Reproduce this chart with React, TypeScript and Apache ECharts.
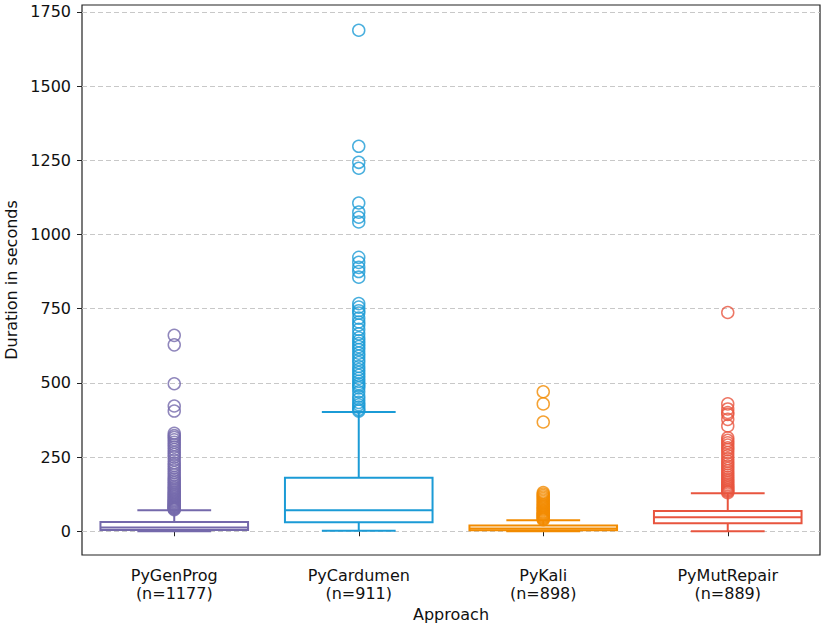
import React, { useEffect, useRef } from "react";
import * as echarts from "echarts";

const approaches = ["PyGenProg", "PyCardumen", "PyKali", "PyMutRepair"];
const counts = [1177, 911, 898, 889];
const colors = ["#7469ab", "#1b9bd6", "#f28b00", "#e8553f"];
const yTicks = [0, 250, 500, 750, 1000, 1250, 1500, 1750];

// [lower whisker, Q1, median, Q3, upper whisker]
const boxGenProg = [0, 4, 13, 31, 71];
const boxCardumen = [2, 30, 71, 180, 402];
const boxKali = [0, 3, 9, 19, 37];
const boxMutRepair = [0, 27, 47, 68, 128];

const outGenProg = [
  73, 75, 77, 79, 81, 83, 85, 88, 90, 93, 96, 99, 102, 105, 108, 112, 116, 120, 124, 128,
  132, 137, 142, 147, 152, 158, 164, 170, 176, 182, 190, 198, 206, 214, 222, 230, 240,
  250, 258, 266, 275, 284, 292, 300, 308, 316, 322, 330, 405, 422, 497, 628, 660,
];
const outCardumen = [
  405, 410, 418, 426, 434, 445, 455, 470, 483, 490, 497, 505, 515, 525, 535, 545, 555,
  568, 578, 590, 600, 612, 622, 632, 642, 652, 665, 680, 695, 705, 718, 735, 743, 755,
  767, 856, 875, 889, 906, 923, 1042, 1058, 1075, 1106, 1223, 1243, 1297, 1688,
];
const outKali = [
  39, 42, 45, 48, 51, 54, 57, 60, 63, 66, 70, 74, 78, 82, 86, 90, 95, 100, 105, 110, 115,
  120, 125, 130, 368, 429, 470,
];
const outMutRepair = [
  130, 134, 138, 142, 147, 152, 157, 163, 169, 175, 182, 189, 196, 204, 212, 220, 228,
  236, 245, 255, 265, 275, 281, 290, 298, 306, 315, 355, 377, 394, 400, 412, 429, 737,
];

const boxes = [boxGenProg, boxCardumen, boxKali, boxMutRepair];
const outliers = [outGenProg, outCardumen, outKali, outMutRepair];

const FONT = "DejaVu Sans";
const FS = 16;

export default function App() {
  const ref = useRef<HTMLDivElement>(null);
  useEffect(() => {
    if (!ref.current) return;
    const chart = echarts.init(ref.current, undefined, { renderer: "svg" });
    const categories = approaches.map((a, i) => `${a}\n(n=${counts[i]})`);
    const boxData = boxes.map((b, i) => [i, ...b]);
    const option: any = {
      animation: false,
      backgroundColor: "#ffffff",
      grid: {
        left: 82,
        right: 2,
        top: 5,
        bottom: 68,
        containLabel: false,
        outerBoundsMode: "none",
        show: true,
        borderColor: "#222",
        borderWidth: 1.2,
        backgroundColor: "transparent",
      },
      xAxis: {
        type: "category",
        data: categories,
        boundaryGap: true,
        name: "Approach",
        nameLocation: "middle",
        nameGap: 49,
        nameTextStyle: { fontFamily: FONT, fontSize: FS, color: "#111" },
        axisLine: { show: false },
        axisTick: { show: true, alignWithLabel: true, length: 5, lineStyle: { color: "#222", width: 1 } },
        axisLabel: {
          fontFamily: FONT,
          fontSize: FS,
          color: "#111",
          lineHeight: 18,
          margin: 11,
          interval: 0,
        },
        splitLine: { show: false },
      },
      yAxis: {
        type: "value",
        min: -80,
        max: 1773,
        name: "Duration in seconds",
        nameLocation: "middle",
        nameGap: 62,
        nameTextStyle: { fontFamily: FONT, fontSize: FS, color: "#111" },
        axisLine: { show: false },
        axisTick: { show: true, length: 5, customValues: yTicks, lineStyle: { color: "#222", width: 1 } },
        axisLabel: {
          fontFamily: FONT,
          fontSize: FS,
          color: "#111",
          margin: 11,
          customValues: yTicks,
          formatter: (v: number) => String(v),
        },
        splitLine: {
          show: true,
          lineStyle: { color: "#c8c8c8", type: [5, 3], width: 1 },
        },
      },
      series: [
        {
          type: "custom",
          z: 2,
          data: boxData,
          encode: { x: 0, y: [1, 2, 3, 4, 5] },
          renderItem: (params: any, api: any) => {
            const i = api.value(0);
            const c = colors[params.dataIndex];
            const band = api.size([1, 0])[0];
            const bw = band * 0.8;
            const cw = band * 0.4;
            const pMin = api.coord([i, api.value(1)]);
            const pQ1 = api.coord([i, api.value(2)]);
            const pMed = api.coord([i, api.value(3)]);
            const pQ3 = api.coord([i, api.value(4)]);
            const pMax = api.coord([i, api.value(5)]);
            const cx = pMed[0];
            const ls = { stroke: c, lineWidth: 2, fill: "none" };
            return {
              type: "group",
              children: [
                { type: "line", shape: { x1: cx, y1: pQ3[1], x2: cx, y2: pMax[1] }, style: ls },
                { type: "line", shape: { x1: cx, y1: pQ1[1], x2: cx, y2: pMin[1] }, style: ls },
                { type: "line", shape: { x1: cx - cw / 2, y1: pMax[1], x2: cx + cw / 2, y2: pMax[1] }, style: ls },
                { type: "line", shape: { x1: cx - cw / 2, y1: pMin[1], x2: cx + cw / 2, y2: pMin[1] }, style: ls },
                {
                  type: "rect",
                  shape: { x: cx - bw / 2, y: pQ3[1], width: bw, height: pQ1[1] - pQ3[1] },
                  style: ls,
                },
                { type: "line", shape: { x1: cx - bw / 2, y1: pMed[1], x2: cx + bw / 2, y2: pMed[1] }, style: ls },
              ],
            };
          },
        },
        ...outliers.map((vals, i) => ({
          type: "scatter",
          z: 3,
          symbol: "circle",
          symbolSize: 12,
          data: vals.map((v) => [i, v]),
          itemStyle: { color: "rgba(255,255,255,0)", borderColor: colors[i], borderWidth: 1.5 },
        })),
      ],
    };
    chart.setOption(option);
    return () => chart.dispose();
  }, []);
  return <div ref={ref} style={{ width: 822, height: 623, position: "absolute", left: 0, top: 0 }} />;
}
